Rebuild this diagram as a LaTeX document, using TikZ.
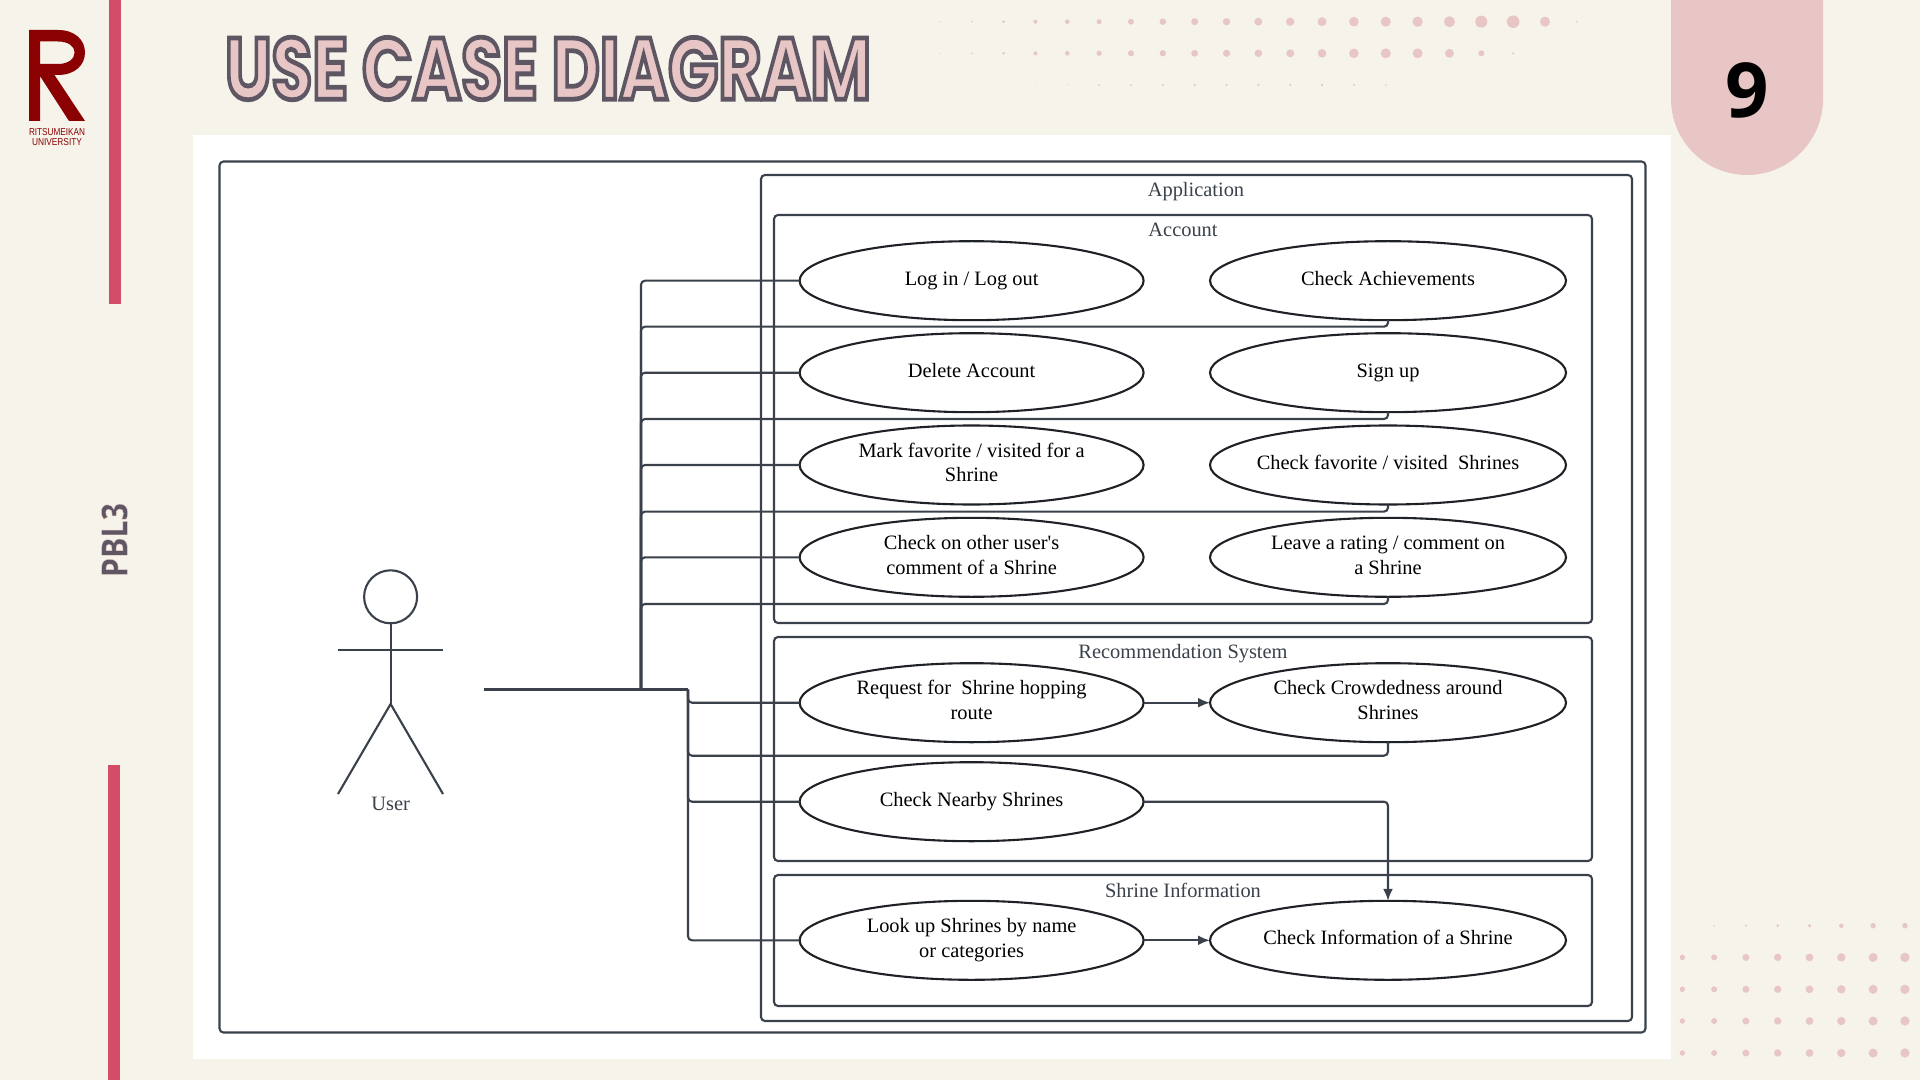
\documentclass[tikz,border=0pt]{standalone}
\usepackage{fontspec}
\usetikzlibrary{arrows.meta,shapes.geometric}
\setmainfont{Liberation Serif}
\newfontfamily\titlefont{Poppins}[BoldFont={Poppins Bold}]
\newfontfamily\nrfont{Open Sans}
\newfontfamily\logofont{Liberation Sans}
\definecolor{bgcream}{HTML}{F6F3EB}
\definecolor{softpink}{HTML}{E8C6C6}
\definecolor{barred}{HTML}{D44D68}
\definecolor{plum}{HTML}{5F5663}
\definecolor{logored}{HTML}{8B0000}
\definecolor{linegray}{HTML}{3A414A}
\definecolor{inkdark}{HTML}{1E2126}
\newcommand\oneline[1]{\makebox[0pt]{\raisebox{-2.3pt}[0pt][0pt]{#1}}}
\newcommand\twolines[2]{\makebox[0pt]{\raisebox{4pt}[0pt][0pt]{#1}}\makebox[0pt]{\raisebox{-8.45pt}[0pt][0pt]{#2}}}
\tikzset{
  uc/.style={ellipse,draw=inkdark,line width=1.05pt,fill=white,minimum height=39.5pt,inner sep=0pt,outer sep=0pt,text=black,font=\fontsize{10.2}{12.5}\selectfont},
  ucl/.style={uc,minimum width=172pt},
  ucr/.style={uc,minimum width=178pt},
  frame/.style={draw=linegray,line width=1.05pt,rounded corners=2pt,anchor=north west,inner sep=0pt,outer sep=0pt},
  frametitle/.style={text=linegray,font=\fontsize{10.2}{12.5}\selectfont,inner sep=0pt},
  wire/.style={draw=linegray,line width=1.05pt,rounded corners=2pt},
  trunk/.style={draw=linegray,line width=1.3pt},
  flow/.style={wire,-{Latex[length=6pt,width=5pt]}},
  stick/.style={draw=linegray,line width=1.05pt},
  dotp/.style={fill=softpink}
}
\begin{document}
\begin{tikzpicture}[x=0.5pt,y=-0.5pt]
\useasboundingbox (0,0) rectangle (1920,1080);
\fill[bgcream] (0,0) rectangle (1920,1080);
% side bars
\fill[barred] (109,0) rectangle (121,304);
\fill[barred] (108,765) rectangle (120,1080);
% logo
\fill[logored,even odd rule] (29,30) -- (58,30) .. controls (75,30) and (85,40) .. (85,52.5) .. controls (85,65) and (75,75) .. (58,75) -- (54.5,75) -- (85,121) -- (69,121) -- (40,76) -- (40,121) -- (29,121) -- cycle
 (40,41.5) -- (58,41.5) .. controls (68,41.5) and (74.6,46) .. (74.6,52.5) .. controls (74.6,59) and (68,64) .. (58,64) -- (40,64) -- cycle;
\node[inner sep=0pt,text=logored] (logoa) at (57,132) {\resizebox{28pt}{3.5pt}{\logofont RITSUMEIKAN}};
\node[inner sep=0pt,text=logored] (logob) at (57,142.5) {\resizebox{25pt}{3.5pt}{\logofont UNIVERSITY}};
% title
\node[inner sep=0pt,anchor=center] (title) at (548,68.5) {\color{softpink}\special{pdf:code 0.373 0.337 0.388 RG 2 Tr 0.55 w}\resizebox{323pt}{31pt}{\titlefont\bfseries USE CASE DIAGRAM}\special{pdf:code 0 Tr}};
% PBL3
\node[inner sep=0pt,rotate=90] (pbl) at (114.5,540) {\color{plum}\special{pdf:code 0.91 0.776 0.776 RG 2 Tr 0.12 w}\resizebox{37pt}{13pt}{\nrfont\bfseries PBL3}\special{pdf:code 0 Tr}};
% dots top
\foreach \r [count=\i from 0] in {0.4,0.8,1,1.5,2,2.3,2.6,3,3.3,3.5,3.7,4,4.2,4.5,4.8,5,5.2,5.5,6,6.3,5,1}
  \fill[dotp] (908+31.85*\i,21.7) circle (\r);
\foreach \r [count=\i from 0] in {0.3,0.6,1,1.5,2,2.3,2.6,3,3.2,3.4,3.6,3.8,4,4.3,4.8,5,5,4.5,3,1.2}
  \fill[dotp] (908+31.85*\i,53.3) circle (\r);
\foreach \r [count=\i from 3] in {0.2,0.4,0.7,0.9,1,1.1,1.2,1.2,1.2,1.2,1.2,1.1,0.8,0.3}
  \fill[dotp] (908+31.85*\i,85) circle (\r);
% dots bottom right
\foreach \r [count=\i from 0] in {0.4,0.8,1.2,1.5,1.8,2.3,2.7,2.8}
  \fill[dotp] (1682.3+31.8*\i,925.7) circle (\r);
\foreach \y in {957.4,989.3,1021,1053}
  \foreach \r [count=\i from 0] in {2.7,3,3.5,3.7,3.9,4.2,4.5,4.7}
    \fill[dotp] (1682.3+31.8*\i,\y) circle (\r);
% page badge
\fill[softpink] (1671,0) -- (1671,99) arc (180:0:76) -- (1823,0) -- cycle;
\node[inner sep=0pt,font=\nrfont\bfseries\fontsize{38}{40}\selectfont,text=black] (pagenr) at (1747.5,90) {9};
% white card
\fill[white] (192.5,135) rectangle (1671,1059);
% frames
\node[frame,minimum width=713pt,minimum height=435.5pt] (outer) at (219.5,161.5) {};
\node[frame,minimum width=435.5pt,minimum height=423pt] (app) at (761,175) {};
\node[frame,minimum width=409pt,minimum height=204pt] (account) at (774,215) {};
\node[frame,minimum width=409pt,minimum height=112pt] (reco) at (774,637) {};
\node[frame,minimum width=409pt,minimum height=65.5pt] (shrine) at (774,875) {};
\node[frametitle] (apptitle) at (1196,192) {Application};
\node[frametitle] (acctitle) at (1183,229.5) {Account};
\node[frametitle] (recotitle) at (1183,654) {Recommendation System};
\node[frametitle] (shrinetitle) at (1183,890) {Shrine Information};
% use cases
\node[ucl] (login) at (971.6,280.7) {\oneline{Log in / Log out}};
\node[ucl] (delete) at (971.6,372.7) {\oneline{Delete Account}};
\node[ucl] (mark) at (971.6,465) {\twolines{Mark favorite / visited for a}{Shrine}};
\node[ucl] (other) at (971.6,557.3) {\twolines{Check on other user\textquotesingle s}{comment of a Shrine}};
\node[ucr] (achieve) at (1388,280.7) {\oneline{Check Achievements}};
\node[ucr] (signup) at (1388,372.7) {\oneline{Sign up}};
\node[ucr] (favs) at (1388,465) {\oneline{Check favorite / visited\ \ Shrines}};
\node[ucr] (rating) at (1388,557.3) {\twolines{Leave a rating / comment on}{a Shrine}};
\node[ucl] (route) at (971.6,702.7) {\twolines{Request for\ \ Shrine hopping}{route}};
\node[ucr] (crowd) at (1388,702.7) {\twolines{Check Crowdedness around}{Shrines}};
\node[ucl] (nearby) at (971.6,801.7) {\oneline{Check Nearby Shrines}};
\node[ucl] (lookup) at (971.6,940.3) {\twolines{Look up Shrines by name}{or categories}};
\node[ucr] (info) at (1388,940.3) {\oneline{Check Information of a Shrine}};
% actor
\node[circle,draw=linegray,line width=1.05pt,minimum size=26.5pt,inner sep=0pt,outer sep=0pt] (head) at (390.6,596.8) {};
\coordinate (hip) at (390.6,704);
\coordinate (armL) at (338,650);
\coordinate (armR) at (443,650);
\coordinate (footL) at (338,794);
\coordinate (footR) at (443,794);
\draw[stick] (head.south) -- (hip);
\draw[stick] (armL) -- (armR);
\draw[stick] (footL) -- (hip) -- (footR);
\node[frametitle] (user) at (390.6,804) {User};
% connectors
\coordinate (actorend) at (484,689.5);
\coordinate (busa) at (641,689.5);
\coordinate (busb) at (688,689.5);
\draw[wire] (busa) |- (login.west);
\draw[wire] (busa) |- (delete.west);
\draw[wire] (busa) |- (mark.west);
\draw[wire] (busa) |- (other.west);
\coordinate (ja) at (1388,326.7);
\coordinate (jb) at (1388,419);
\coordinate (jc) at (1388,511.6);
\coordinate (jd) at (1388,604);
\coordinate (je) at (1388,755.7);
\draw[wire] (achieve.south) -- (ja) -| (busa);
\draw[wire] (signup.south) -- (jb) -| (busa);
\draw[wire] (favs.south) -- (jc) -| (busa);
\draw[wire] (rating.south) -- (jd) -| (busa);
\draw[wire] (busb) |- (route.west);
\draw[wire] (busb) |- (nearby.west);
\draw[wire] (busb) |- (lookup.west);
\draw[wire] (crowd.south) -- (je) -| (busb);
\draw[trunk] (actorend) -- (busb);
\draw[flow] (route.east) -- (crowd.west);
\draw[flow] (lookup.east) -- (info.west);
\draw[flow] (nearby.east) -| (info.north);
\end{tikzpicture}
\end{document}
